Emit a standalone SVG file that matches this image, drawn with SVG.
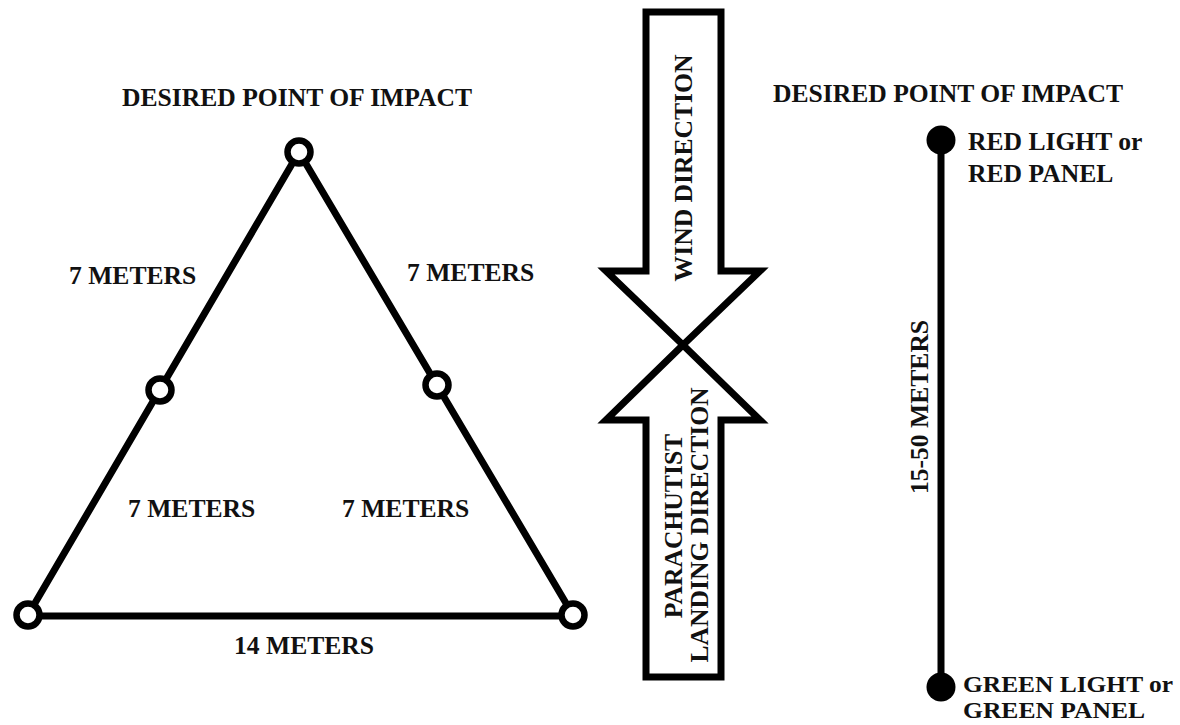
<svg xmlns="http://www.w3.org/2000/svg" width="1180" height="725" viewBox="0 0 1180 725">
<style>
text{font-family:"Liberation Serif","Times New Roman",serif;font-weight:bold;font-size:25.6px;fill:#111}
.small{font-size:23.5px}
.edge{stroke:#000;stroke-width:7;fill:none;stroke-linecap:round}
.ring{stroke:#000;stroke-width:6.5;fill:#fff}
.dot{fill:#000}
.arrow{stroke:#000;stroke-width:7;fill:#fff;stroke-linejoin:miter;stroke-miterlimit:10}
</style>
<rect width="1180" height="725" fill="#fff"/>
<g id="connectors">
<line class="edge" x1="299" y1="152" x2="28" y2="615"/>
<line class="edge" x1="299" y1="152" x2="573" y2="615"/>
<line class="edge" x1="28" y1="616" x2="573" y2="616"/>
<line class="edge" x1="941" y1="140" x2="941" y2="687"/>
</g>
<g id="labels">
<text x="122" y="106">DESIRED POINT OF IMPACT</text>
<text x="69" y="284">7 METERS</text>
<text x="407" y="281">7 METERS</text>
<text x="128" y="517">7 METERS</text>
<text x="342" y="517">7 METERS</text>
<text x="234" y="654">14 METERS</text>
<text x="773" y="102">DESIRED POINT OF IMPACT</text>
<text transform="translate(928,407) rotate(-90)" text-anchor="middle">15-50 METERS</text>
</g>
<g id="node-top"><circle class="ring" cx="299" cy="152" r="11.5"/></g>
<g id="node-left-mid"><circle class="ring" cx="160" cy="390" r="11.5"/></g>
<g id="node-right-mid"><circle class="ring" cx="437" cy="385" r="11.5"/></g>
<g id="node-bottom-left"><circle class="ring" cx="28" cy="615" r="11.5"/></g>
<g id="node-bottom-right"><circle class="ring" cx="573" cy="615" r="11.5"/></g>
<g id="wind-arrow">
<polygon class="arrow" points="646,12 721,12 721,271 760,271 683,345 606,271 646,271"/>
<text transform="translate(692,168) rotate(-90)" text-anchor="middle">WIND DIRECTION</text>
</g>
<g id="landing-arrow">
<polygon class="arrow" points="683,345 760,420 721,420 721,677 646,677 646,420 606,420"/>
<text transform="translate(682,526) rotate(-90)" text-anchor="middle">PARACHUTIST</text>
<text transform="translate(708,525) rotate(-90)" text-anchor="middle">LANDING DIRECTION</text>
</g>
<g id="node-red">
<circle class="dot" cx="941" cy="140" r="14.5"/>
<text x="968" y="150">RED LIGHT or</text>
<text x="968" y="182">RED PANEL</text>
</g>
<g id="node-green">
<circle class="dot" cx="941" cy="687" r="14.5"/>
<text class="small" x="963" y="692" textLength="210" lengthAdjust="spacingAndGlyphs">GREEN LIGHT or</text>
<text class="small" x="963" y="718" textLength="182" lengthAdjust="spacingAndGlyphs">GREEN PANEL</text>
</g>
</svg>
